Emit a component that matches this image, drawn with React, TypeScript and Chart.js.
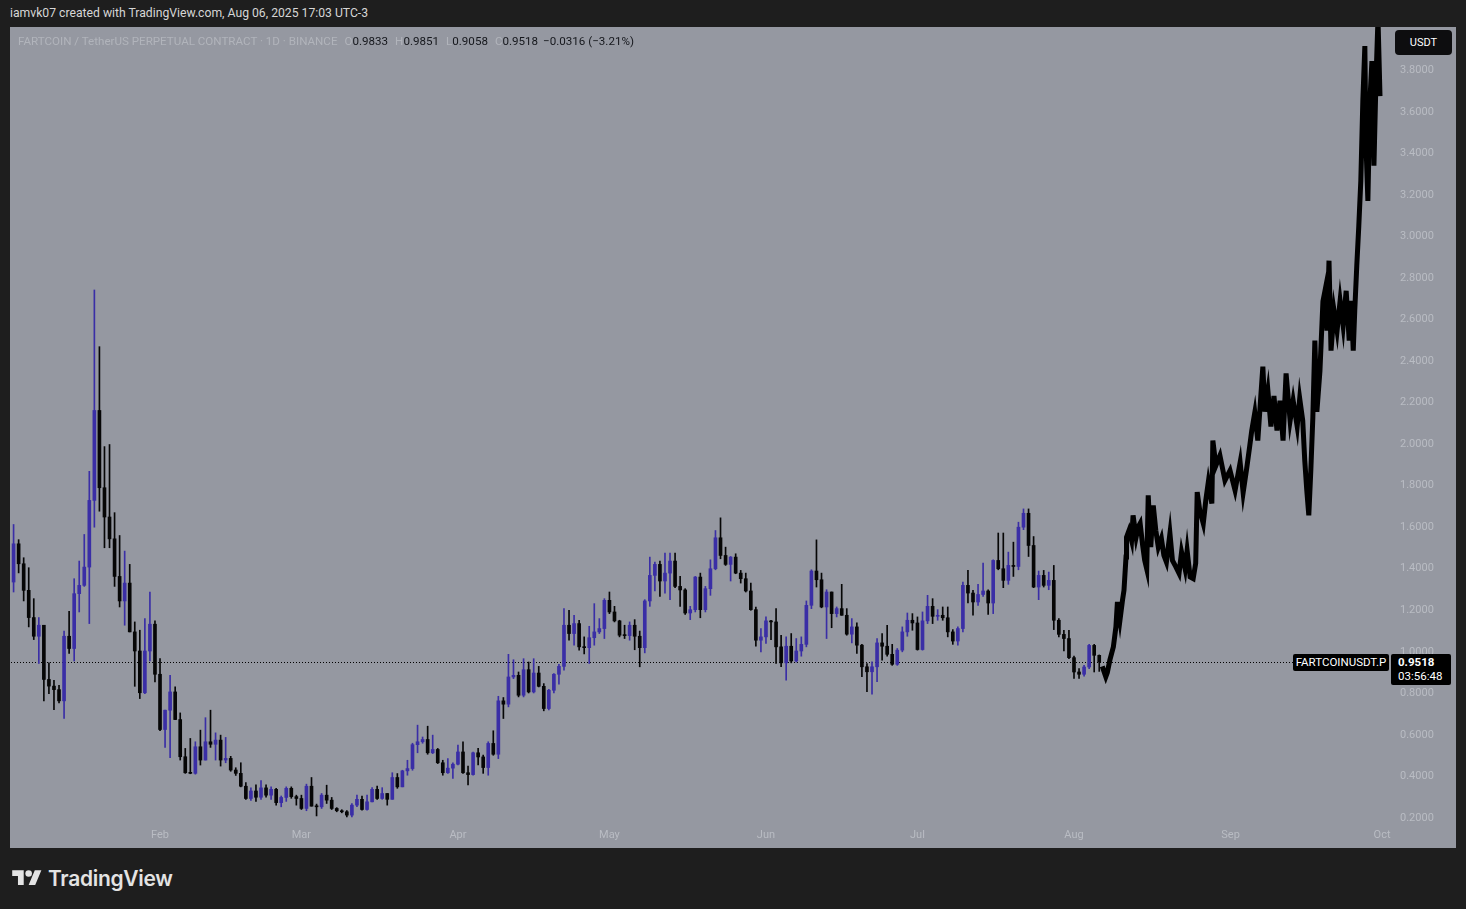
import React, { useEffect, useRef } from 'react';
import { Chart, registerables } from 'chart.js';

Chart.register(...registerables);

// Day index (Jan 1 2025 = 0) of the first daily candle
const FIRST_DAY = 2;

const OPEN = [
  1.336, 1.52, 1.424, 1.296, 1.165, 1.075, 1.128, 0.867, 0.835, 0.818,
  0.764, 1.075, 1.016, 1.28, 1.32, 1.408, 1.729, 2.162, 1.79, 1.649,
  1.544, 1.363, 1.245, 1.331, 1.096, 1.004, 0.803, 1.004, 1.133, 0.892,
  0.626, 0.719, 0.807, 0.674, 0.495, 0.418, 0.415, 0.543, 0.479, 0.567,
  0.555, 0.575, 0.479, 0.487, 0.431, 0.415, 0.353, 0.294, 0.33, 0.30,
  0.345, 0.31, 0.338, 0.274, 0.299, 0.343, 0.303, 0.294, 0.246, 0.353,
  0.257, 0.254, 0.31, 0.286, 0.246, 0.235, 0.23, 0.214, 0.262, 0.29,
  0.241, 0.278, 0.338, 0.294, 0.318, 0.29, 0.395, 0.35, 0.427, 0.438,
  0.553, 0.567, 0.578, 0.514, 0.53, 0.466, 0.418, 0.44, 0.459, 0.518,
  0.418, 0.409, 0.514, 0.494, 0.443, 0.559, 0.507, 0.764, 0.748, 0.879,
  0.887, 0.791, 0.914, 0.807, 0.898, 0.834, 0.727, 0.815, 0.892, 0.93,
  1.128, 1.088, 1.136, 1.024, 1.02, 1.068, 1.096, 1.112, 1.248, 1.192,
  1.149, 1.08, 1.078, 1.128, 1.075, 1.02, 1.245, 1.368, 1.421, 1.341,
  1.379, 1.437, 1.315, 1.298, 1.187, 1.203, 1.36, 1.203, 1.304, 1.4,
  1.549, 1.464, 1.421, 1.456, 1.379, 1.352, 1.293, 1.203, 1.056, 1.072,
  1.149, 1.144, 1.024, 0.947, 1.027, 0.956, 1.004, 1.036, 1.224, 1.389,
  1.347, 1.216, 1.288, 1.184, 1.208, 1.176, 1.085, 1.12, 1.032, 0.928,
  0.904, 0.928, 1.043, 1.027, 0.988, 0.94, 1.008, 1.096, 1.152, 1.139,
  1.011, 1.149, 1.219, 1.171, 1.176, 1.164, 1.096, 1.052, 1.112, 1.32,
  1.283, 1.24, 1.276, 1.293, 1.235, 1.44, 1.4, 1.344, 1.416, 1.411,
  1.6, 1.667, 1.512, 1.312, 1.368, 1.32, 1.344, 1.152, 1.084, 1.064,
  0.972, 0.903, 0.892, 0.927, 1.031, 0.9833,
];

const HIGH = [
  1.613, 1.54, 1.453, 1.405, 1.256, 1.165, 1.128, 0.947, 0.863, 0.839,
  1.1, 1.195, 1.352, 1.437, 1.565, 1.869, 2.742, 2.469, 1.988, 1.998,
  1.67, 1.56, 1.485, 1.421, 1.144, 1.104, 1.16, 1.288, 1.149, 0.967,
  0.719, 0.887, 0.831, 0.706, 0.535, 0.583, 0.567, 0.623, 0.683, 0.719,
  0.61, 0.599, 0.588, 0.497, 0.442, 0.466, 0.37, 0.345, 0.36, 0.38,
  0.36, 0.35, 0.343, 0.306, 0.35, 0.35, 0.31, 0.31, 0.363, 0.395,
  0.267, 0.318, 0.358, 0.299, 0.25, 0.24, 0.236, 0.27, 0.31, 0.306,
  0.31, 0.346, 0.354, 0.346, 0.318, 0.418, 0.414, 0.43, 0.478, 0.56,
  0.647, 0.59, 0.642, 0.599, 0.535, 0.478, 0.486, 0.466, 0.551, 0.567,
  0.45, 0.518, 0.535, 0.503, 0.567, 0.62, 0.786, 0.78, 0.988, 0.962,
  0.903, 0.967, 0.951, 0.967, 0.93, 0.847, 0.82, 0.895, 0.94, 1.208,
  1.2, 1.176, 1.152, 1.072, 1.123, 1.232, 1.16, 1.256, 1.288, 1.219,
  1.152, 1.128, 1.144, 1.155, 1.1, 1.251, 1.456, 1.432, 1.437, 1.475,
  1.475, 1.475, 1.363, 1.304, 1.219, 1.363, 1.379, 1.315, 1.443, 1.584,
  1.645, 1.504, 1.459, 1.472, 1.392, 1.379, 1.331, 1.216, 1.112, 1.168,
  1.152, 1.208, 1.08, 1.072, 1.088, 1.064, 1.072, 1.245, 1.395, 1.539,
  1.379, 1.299, 1.288, 1.216, 1.325, 1.208, 1.16, 1.14, 1.036, 0.944,
  0.952, 1.064, 1.088, 1.128, 1.036, 1.016, 1.12, 1.187, 1.184, 1.168,
  1.192, 1.272, 1.256, 1.203, 1.216, 1.216, 1.107, 1.12, 1.336, 1.392,
  1.296, 1.325, 1.427, 1.299, 1.443, 1.572, 1.572, 1.48, 1.528, 1.624,
  1.688, 1.688, 1.555, 1.389, 1.392, 1.384, 1.416, 1.16, 1.104, 1.104,
  0.979, 0.919, 0.935, 1.036, 1.036, 0.9851,
];

const LOW = [
  1.288, 1.38, 1.245, 1.12, 1.059, 0.944, 0.764, 0.799, 0.722, 0.754,
  0.679, 0.992, 0.956, 1.192, 1.315, 1.136, 1.6, 1.677, 1.501, 1.501,
  1.315, 1.216, 1.128, 1.096, 0.834, 0.775, 0.799, 0.956, 0.855, 0.62,
  0.54, 0.491, 0.674, 0.479, 0.415, 0.413, 0.411, 0.455, 0.479, 0.54,
  0.479, 0.45, 0.466, 0.425, 0.405, 0.35, 0.29, 0.285, 0.28, 0.29,
  0.30, 0.29, 0.262, 0.254, 0.28, 0.295, 0.262, 0.241, 0.235, 0.257,
  0.21, 0.246, 0.27, 0.241, 0.23, 0.225, 0.205, 0.205, 0.255, 0.238,
  0.238, 0.278, 0.29, 0.29, 0.262, 0.29, 0.343, 0.35, 0.406, 0.43,
  0.514, 0.56, 0.507, 0.51, 0.462, 0.406, 0.415, 0.39, 0.455, 0.415,
  0.359, 0.406, 0.455, 0.415, 0.406, 0.502, 0.486, 0.679, 0.735, 0.871,
  0.783, 0.783, 0.802, 0.802, 0.831, 0.716, 0.72, 0.802, 0.844, 0.912,
  1.056, 1.032, 1.008, 0.99, 0.944, 1.032, 1.088, 1.064, 1.184, 1.144,
  1.072, 1.064, 1.056, 1.01, 0.928, 0.995, 1.219, 1.293, 1.267, 1.283,
  1.251, 1.309, 1.219, 1.18, 1.155, 1.192, 1.164, 1.192, 1.272, 1.395,
  1.448, 1.416, 1.341, 1.376, 1.331, 1.288, 1.2, 1.027, 1.0, 1.04,
  1.059, 0.944, 0.928, 0.864, 0.947, 0.951, 0.979, 1.024, 1.208, 1.312,
  1.212, 1.064, 1.116, 1.168, 1.176, 1.08, 1.043, 0.992, 0.88, 0.808,
  0.796, 0.856, 0.96, 0.979, 0.935, 0.935, 1.0, 1.075, 1.104, 1.008,
  1.008, 1.136, 1.136, 1.152, 1.152, 1.072, 1.036, 1.032, 1.096, 1.235,
  1.176, 1.224, 1.267, 1.18, 1.184, 1.395, 1.309, 1.325, 1.363, 1.395,
  1.588, 1.459, 1.309, 1.251, 1.312, 1.299, 1.107, 1.072, 1.004, 0.967,
  0.872, 0.872, 0.883, 0.919, 0.903, 0.9058,
];

const CLOSE = [
  1.52, 1.424, 1.296, 1.165, 1.075, 1.128, 0.867, 0.835, 0.818, 0.764,
  1.075, 1.016, 1.28, 1.32, 1.408, 1.729, 2.162, 1.79, 1.649, 1.544,
  1.363, 1.245, 1.331, 1.096, 1.004, 0.803, 1.004, 1.133, 0.892, 0.626,
  0.719, 0.807, 0.674, 0.495, 0.418, 0.415, 0.543, 0.479, 0.567, 0.555,
  0.575, 0.479, 0.487, 0.431, 0.415, 0.353, 0.294, 0.33, 0.30, 0.345,
  0.31, 0.338, 0.274, 0.299, 0.343, 0.303, 0.294, 0.246, 0.353, 0.257,
  0.254, 0.31, 0.286, 0.246, 0.235, 0.23, 0.214, 0.262, 0.29, 0.241,
  0.278, 0.338, 0.294, 0.318, 0.29, 0.395, 0.35, 0.427, 0.438, 0.553,
  0.567, 0.578, 0.514, 0.53, 0.466, 0.418, 0.44, 0.459, 0.518, 0.418,
  0.409, 0.514, 0.494, 0.443, 0.559, 0.507, 0.764, 0.748, 0.879, 0.887,
  0.791, 0.914, 0.807, 0.898, 0.834, 0.727, 0.815, 0.892, 0.93, 1.128,
  1.088, 1.136, 1.024, 1.02, 1.068, 1.096, 1.112, 1.248, 1.192, 1.149,
  1.08, 1.078, 1.128, 1.075, 1.02, 1.245, 1.368, 1.421, 1.341, 1.379,
  1.437, 1.315, 1.298, 1.187, 1.203, 1.36, 1.203, 1.304, 1.4, 1.549,
  1.464, 1.421, 1.456, 1.379, 1.352, 1.293, 1.203, 1.056, 1.072, 1.149,
  1.144, 1.024, 0.947, 1.027, 0.956, 1.004, 1.036, 1.224, 1.389, 1.347,
  1.216, 1.288, 1.184, 1.208, 1.176, 1.085, 1.12, 1.032, 0.928, 0.904,
  0.928, 1.043, 1.027, 0.988, 0.94, 1.008, 1.096, 1.152, 1.139, 1.011,
  1.149, 1.219, 1.171, 1.176, 1.164, 1.096, 1.052, 1.112, 1.32, 1.283,
  1.24, 1.276, 1.293, 1.235, 1.44, 1.4, 1.344, 1.416, 1.411, 1.6,
  1.667, 1.512, 1.312, 1.368, 1.32, 1.344, 1.152, 1.084, 1.064, 0.972,
  0.903, 0.892, 0.927, 1.031, 0.9833, 0.9518,
];

// Hand-drawn projection path (day index, price)
const PROJ_DAY = [
  217.6, 218.3, 218.6, 219.1, 219.8, 220.3, 220.6, 221.1, 221.6, 221.9,
  222.3, 222.4, 222.9, 223.4, 223.7, 224.3, 224.7, 225.1, 225.6, 226.0,
  226.4, 226.7, 227.2, 227.7, 228.2, 228.7, 229.3, 229.8, 230.3, 231.0,
  231.5, 232.2, 232.8, 233.3, 234.0, 234.4, 235.0, 235.6, 236.1, 236.4,
  236.9, 237.6, 238.1, 238.6, 239.3, 239.5, 240.1, 240.9, 241.9, 242.9,
  243.9, 244.9, 245.5, 246.2, 246.8, 247.2, 247.8, 248.4, 249.0, 249.4,
  249.8, 250.4, 251.0, 251.6, 252.2, 252.8, 253.4, 254.0, 254.8, 255.4,
  256.2, 256.7, 257.3, 257.7, 258.1, 258.5, 258.9, 259.3, 259.7, 260.1,
  260.7, 261.3, 261.7, 262.1, 262.5, 262.9, 263.5, 264.1, 264.7, 265.3,
  265.9, 266.5, 266.9, 267.3, 267.6, 268.0, 268.4, 268.8, 269.2, 269.6,
  269.8, 270.2, 270.6, 271.0, 271.4, 271.8, 272.2, 272.6,
];
const PROJ_PRICE = [
  0.93, 0.88, 0.90, 0.96, 1.024, 1.12, 1.24, 1.152, 1.248, 1.296,
  1.456, 1.552, 1.585, 1.537, 1.657, 1.552, 1.6, 1.618, 1.512, 1.441,
  1.4, 1.753, 1.504, 1.705, 1.585, 1.504, 1.546, 1.464, 1.432, 1.57,
  1.44, 1.408, 1.378, 1.48, 1.4, 1.488, 1.36, 1.352, 1.426, 1.769,
  1.681, 1.618, 1.729, 1.817, 1.714, 2.017, 1.897, 1.945, 1.825, 1.873,
  1.777, 1.912, 1.767, 1.883, 1.99, 2.065, 2.151, 2.017, 2.232, 2.373,
  2.156, 2.257, 2.085, 2.232, 2.065, 2.209, 2.017, 2.34, 2.113, 2.209,
  2.085, 2.219, 2.113, 1.921, 1.777, 1.657, 1.873, 2.128, 2.498, 2.156,
  2.35, 2.688, 2.738, 2.546, 2.883, 2.45, 2.642, 2.546, 2.69, 2.57,
  2.738, 2.498, 2.69, 2.45, 2.642, 2.858, 3.05, 3.267, 3.652, 3.916,
  3.46, 3.171, 3.652, 3.844, 3.34, 3.748, 4.05, 3.675,
];

const MONTH_DAYS = [31, 59, 90, 120, 151, 181, 212, 243, 273];
const MONTH_LABELS = ['Feb', 'Mar', 'Apr', 'May', 'Jun', 'Jul', 'Aug', 'Sep', 'Oct'];
const PRICE_TICKS = [0.2, 0.4, 0.6, 0.8, 1.0, 1.2, 1.4, 1.6, 1.8, 2.0, 2.2, 2.4, 2.6, 2.8, 3.0, 3.2, 3.4, 3.6, 3.8];
const LAST_PRICE = 0.9518;

const UP = '#3a2ea6';
const DOWN = '#060606';
const BG = '#1e1e1e';
const PANEL = '#9598a1';
const AXIS_TEXT = '#b9bcc3';
const FONT = 'Roboto, "Liberation Sans", sans-serif';

const priceLinePlugin = {
  id: 'priceLine',
  beforeDatasetsDraw(chart: any) {
    const { ctx, chartArea, scales } = chart;
    const y = Math.round(scales.y.getPixelForValue(LAST_PRICE)) + 0.5;
    ctx.save();
    ctx.strokeStyle = '#000';
    ctx.lineWidth = 1;
    ctx.setLineDash([1, 2]);
    ctx.beginPath();
    ctx.moveTo(chartArea.left, y);
    ctx.lineTo(chartArea.right, y);
    ctx.stroke();
    ctx.restore();
  },
};

function PriceChart() {
  const ref = useRef<HTMLCanvasElement | null>(null);
  useEffect(() => {
    if (!ref.current) return;
    const colors = CLOSE.map((c, i) => (c >= OPEN[i] ? UP : DOWN));
    const wickData = CLOSE.map((_, i) => ({ x: FIRST_DAY + i, y: [LOW[i], HIGH[i]] }));
    const bodyData = CLOSE.map((c, i) => ({ x: FIRST_DAY + i, y: [OPEN[i], c] }));
    const projData = PROJ_DAY.map((d, i) => ({ x: d, y: PROJ_PRICE[i] }));
    const chart = new Chart(ref.current, {
      type: 'bar',
      data: {
        datasets: [
          {
            type: 'line',
            data: projData as any,
            borderColor: '#000',
            borderWidth: 5,
            pointRadius: 0,
            tension: 0,
            borderJoinStyle: 'miter',
            order: 0,
          } as any,
          {
            type: 'bar',
            data: bodyData as any,
            backgroundColor: colors,
            barThickness: 3,
            minBarLength: 1,
            borderWidth: 0,
            grouped: false,
            order: 1,
          } as any,
          {
            type: 'bar',
            data: wickData as any,
            backgroundColor: colors,
            barThickness: 1,
            borderWidth: 0,
            grouped: false,
            order: 2,
          } as any,
        ],
      },
      options: {
        animation: false,
        responsive: false,
        layout: { padding: { left: 1, top: 0, right: 0, bottom: 0 } },
        plugins: { legend: { display: false }, tooltip: { enabled: false } },
        scales: {
          x: {
            type: 'linear',
            min: 1.49,
            max: 274.58,
            offset: false,
            grid: { display: false, drawTicks: false },
            border: { display: false },
            afterBuildTicks: (scale: any) => {
              scale.ticks = MONTH_DAYS.map((v) => ({ value: v }));
            },
            afterFit: (scale: any) => {
              scale.height = 26;
              scale.paddingLeft = 0;
              scale.paddingRight = 0;
            },
            ticks: {
              autoSkip: false,
              maxRotation: 0,
              padding: 7,
              color: AXIS_TEXT,
              font: { family: FONT, size: 11 },
              callback: (v: any) => MONTH_LABELS[MONTH_DAYS.indexOf(Number(v))] ?? '',
            },
          },
          y: {
            type: 'linear',
            position: 'right',
            min: 0.1808,
            max: 4.008,
            grid: { display: false, drawTicks: false },
            border: { display: false },
            afterBuildTicks: (scale: any) => {
              scale.ticks = PRICE_TICKS.map((v) => ({ value: v }));
            },
            afterFit: (scale: any) => {
              scale.width = 66;
              scale.paddingTop = 0;
              scale.paddingBottom = 0;
            },
            ticks: {
              padding: 10,
              color: AXIS_TEXT,
              font: { family: FONT, size: 11 },
              callback: (v: any) => Number(v).toFixed(4),
            },
          },
        },
      } as any,
      plugins: [priceLinePlugin],
    });
    return () => chart.destroy();
  }, []);
  return <canvas ref={ref} width={1446} height={821} style={{ display: 'block' }} />;
}

export default function App() {
  const faint = '#b1b4bb';
  const dark = '#15171c';
  return (
    <div
      style={{
        position: 'fixed',
        left: 0,
        top: 0,
        width: 1466,
        height: 909,
        background: BG,
        fontFamily: FONT,
        overflow: 'hidden',
      }}
    >
      <div style={{ position: 'absolute', left: 10, top: 6, fontSize: 12.2, color: '#d6d6d6', whiteSpace: 'nowrap' }}>
        iamvk07 created with TradingView.com, Aug 06, 2025 17:03 UTC-3
      </div>
      <div style={{ position: 'absolute', left: 10, top: 27, width: 1446, height: 821, background: PANEL }}>
        <PriceChart />
        <div
          style={{
            position: 'absolute',
            left: 8,
            top: 7,
            fontSize: 11.6,
            whiteSpace: 'nowrap',
            color: faint,
          }}
        >
          <span>FARTCOIN / TetherUS PERPETUAL CONTRACT · 1D · BINANCE</span>
          <span style={{ marginLeft: 7 }}>O</span>
          <span style={{ color: dark }}>0.9833</span>
          <span style={{ marginLeft: 7 }}>H</span>
          <span style={{ color: dark }}>0.9851</span>
          <span style={{ marginLeft: 7 }}>L</span>
          <span style={{ color: dark }}>0.9058</span>
          <span style={{ marginLeft: 7 }}>C</span>
          <span style={{ color: dark }}>0.9518</span>
          <span style={{ color: dark, marginLeft: 5 }}>−0.0316 (−3.21%)</span>
        </div>
        <div
          style={{
            position: 'absolute',
            left: 1385,
            top: 3,
            width: 57,
            height: 25,
            background: '#0d0d0f',
            borderRadius: 4,
            color: '#fff',
            fontSize: 11,
            lineHeight: '25px',
            textAlign: 'center',
          }}
        >
          USDT
        </div>
        <div
          style={{
            position: 'absolute',
            left: 1283,
            top: 627,
            width: 96,
            height: 17,
            background: '#000',
            color: '#fff',
            fontSize: 11.5,
            lineHeight: '17px',
            textAlign: 'center',
            borderRadius: 2,
          }}
        >
          FARTCOINUSDT.P
        </div>
        <div
          style={{
            position: 'absolute',
            left: 1381,
            top: 627,
            width: 60,
            height: 31,
            background: '#000',
            color: '#fff',
            fontSize: 11.5,
            lineHeight: '14px',
            paddingTop: 1,
            boxSizing: 'border-box',
            paddingLeft: 7,
            borderRadius: 2,
          }}
        >
          <div style={{ fontWeight: 700 }}>0.9518</div>
          <div>03:56:48</div>
        </div>
      </div>
      <div style={{ position: 'absolute', left: 12, top: 866, display: 'flex', alignItems: 'center' }}>
        <svg width="30" height="23" viewBox="0 0 36 28" style={{ display: 'block' }}>
          <path d="M14 22H7V11H0V4h14v18zM28 22h-8l7.5-18h8L28 22z" fill="#e3e3e3" />
          <circle cx="20" cy="8" r="4" fill="#e3e3e3" />
        </svg>
        <span style={{ marginLeft: 6, fontSize: 21, fontWeight: 600, color: '#e3e3e3', fontFamily: 'Inter, Roboto, sans-serif', letterSpacing: -0.3 }}>
          TradingView
        </span>
      </div>
    </div>
  );
}
